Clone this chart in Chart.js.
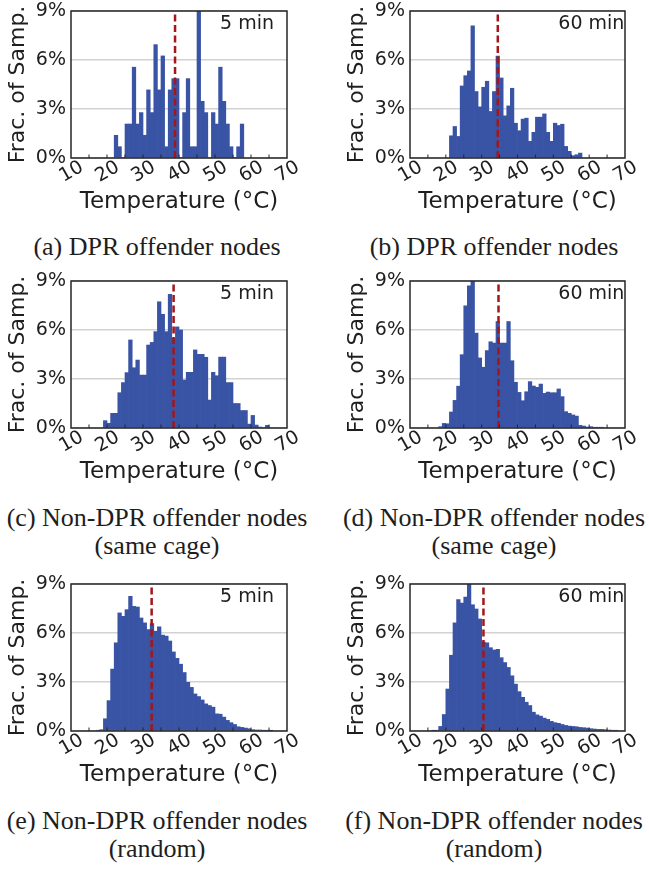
<!DOCTYPE html>
<html>
<head>
<meta charset="utf-8">
<script src="https://cdn.jsdelivr.net/npm/chart.js@4.4.1/dist/chart.umd.min.js"></script>
<style>
  body { margin: 0; background: #fff; width: 649px; height: 869px; position: relative; overflow: hidden; }
  .box { position: absolute; width: 310px; height: 218px; }
  .cap { position: absolute; width: 314px; text-align: center; font-family: "Liberation Serif", "Times New Roman", serif; font-size: 26px; line-height: 28px; color: #1e1e1e; }
</style>
</head>
<body>
<div class="box" style="left:0;top:0"><canvas id="a" width="310" height="218"></canvas></div>
<div class="box" style="left:339px;top:0"><canvas id="b" width="310" height="218"></canvas></div>
<div class="box" style="left:0;top:270px"><canvas id="c" width="310" height="218"></canvas></div>
<div class="box" style="left:339px;top:270px"><canvas id="d" width="310" height="218"></canvas></div>
<div class="box" style="left:0;top:573px"><canvas id="e" width="310" height="218"></canvas></div>
<div class="box" style="left:339px;top:573px"><canvas id="f" width="310" height="218"></canvas></div>

<div class="cap" style="left:0;top:233px">(a) DPR offender nodes</div>
<div class="cap" style="left:337px;top:233px">(b) DPR offender nodes</div>
<div class="cap" style="left:0;top:504px">(c) Non-DPR offender nodes<br>(same cage)</div>
<div class="cap" style="left:337px;top:504px">(d) Non-DPR offender nodes<br>(same cage)</div>
<div class="cap" style="left:0;top:807px">(e) Non-DPR offender nodes<br>(random)</div>
<div class="cap" style="left:337px;top:807px">(f) Non-DPR offender nodes<br>(random)</div>

<script>
// x ticks (°C) and y ticks (%)
var tempTicks = [10, 20, 30, 40, 50, 60, 70];
var pctTicks = [0, 3, 6, 9];
var gridSteps = [0, 1.5, 3, 4.5, 6, 7.5, 9];

// 1 °C bins, first bin lower edge + fraction of samples (%)
var dpr5First = 22;
var dpr5 = [1.39, 0.69, 0, 2.08, 2.08, 5.56, 2.08, 2.78, 1.39, 4.17, 2.78, 6.94, 4.17, 6.25, 0.69, 4.17, 4.86, 4.86, 0, 2.78,
            4.86, 0.69, 0.69, 9.0, 3.47, 2.78, 0, 2.78, 2.08, 5.56, 3.47, 2.08, 0.69, 0, 0.69, 2.08];
var dpr60First = 21;
var dpr60 = [1.36, 1.93, 1.32, 4.41, 5.04, 5.33, 8.09, 4.07, 3.13, 4.33, 4.70, 2.85, 4.07, 6.24, 4.90, 2.58, 3.19, 4.27, 2.13, 1.67,
             2.38, 2.44, 1.02, 1.57, 2.50, 2.50, 2.70, 1.57, 1.02, 2.13, 1.99, 2.07, 0.71, 0.41, 0.14, 0.20, 0.30];
var cage5First = 19;
var cage5 = [0.45, 0.29, 0.90, 0.90, 2.16, 2.78, 3.39, 5.39, 3.69, 4.16, 3.24, 3.24, 5.08, 5.24, 5.90, 7.73, 6.96, 5.90, 8.19, 5.50,
             6.19, 6.00, 2.94, 3.41, 3.41, 4.78, 4.51, 4.51, 4.33, 1.71, 3.41, 3.20, 4.34, 4.34, 2.78, 2.78, 1.50, 1.50, 1.07, 1.07,
             0.24, 0.77, 0.18, 0.06, 0, 0.16];
var cage60First = 18;
var cage60 = [0.08, 0.28, 0.26, 0.98, 1.69, 2.56, 4.49, 7.48, 8.70, 9.0, 5.81, 4.29, 3.72, 4.74, 5.28, 5.20, 6.52, 5.20, 5.20, 6.52,
              4.12, 2.80, 2.18, 1.67, 2.22, 2.84, 2.57, 2.49, 2.69, 2.12, 2.20, 2.16, 2.16, 2.39, 1.92, 1.00, 0.90, 0.80, 0.73, 0.16,
              0.12, 0.06, 0.08, 0.04, 0.04, 0.04];
var rand5First = 17;
var rand5 = [0.04, 0.08, 0.75, 1.86, 3.79, 5.40, 7.23, 7.02, 7.43, 8.24, 7.63, 7.59, 6.92, 6.62, 6.21, 6.58, 6.11, 6.38, 5.87, 5.81,
             5.51, 4.84, 4.45, 4.09, 3.58, 2.98, 2.67, 2.27, 2.11, 1.90, 1.66, 1.56, 1.46, 1.05, 1.03, 0.85, 0.65, 0.51, 0.40, 0.26,
             0.22, 0.18, 0.14, 0.08, 0.06, 0.06, 0.04, 0.04, 0.02];
var rand60First = 16;
var rand60 = [0.03, 0.04, 0.28, 1.01, 2.57, 4.64, 6.62, 8.04, 7.83, 8.20, 9.0, 7.73, 7.47, 6.86, 5.45, 5.40, 5.10, 4.96, 5.00, 4.49,
              4.19, 3.89, 3.38, 2.87, 2.41, 2.06, 1.76, 1.56, 1.15, 0.99, 0.91, 0.79, 0.71, 0.59, 0.51, 0.47, 0.40, 0.34, 0.30, 0.28,
              0.26, 0.22, 0.20, 0.18, 0.14, 0.12, 0.10, 0.10, 0.08, 0.06, 0.04, 0.04];

// median temperature (dashed line)
var medians = { a: 38.9, b: 34.5, c: 38.5, d: 34.7, e: 32.4, f: 30.5 };

Chart.defaults.font.family = '"DejaVu Sans", sans-serif';
Chart.defaults.color = '#1e1e1e';

var frame = {
    id: 'frame',
    afterDatasetsDraw: function (chart, args, opts) {
        var ctx = chart.ctx, a = chart.chartArea, x = chart.scales.x;
        ctx.save();
        ctx.strokeStyle = '#262626';
        ctx.lineWidth = 1;
        for (var v = 15; v < 70; v += 5) {
            var px = x.getPixelForValue(v);
            ctx.beginPath();
            ctx.moveTo(px, a.bottom);
            ctx.lineTo(px, a.bottom - 3.5);
            ctx.stroke();
        }
        ctx.lineWidth = 1.5;
        ctx.strokeRect(a.left, a.top, a.right - a.left, a.bottom - a.top);
        ctx.fillStyle = '#1e1e1e';
        ctx.font = '19px "DejaVu Sans"';
        ctx.textBaseline = 'alphabetic';
        ctx.fillText(opts.text, a.left + 0.69 * (a.right - a.left), a.top + 18);
        ctx.restore();
    }
};

function histogram(id, first, vals, median, text, padRight) {
    var bars = vals.map(function (v, i) { return { x: first + i + 0.5, y: v }; });
    new Chart(document.getElementById(id), {
        type: 'bar',
        data: {
            datasets: [{
                type: 'line',
                data: [{ x: median, y: 0 }, { x: median, y: 9 }],
                borderColor: '#a3161a',
                borderWidth: 2.5,
                borderDash: [7, 3.5],
                pointRadius: 0,
                order: 0
            }, {
                data: bars,
                backgroundColor: '#3953a5',
                borderWidth: 0,
                barPercentage: 1,
                categoryPercentage: 1,
                order: 1
            }]
        },
        options: {
            responsive: false,
            animation: false,
            layout: { padding: { top: 11, right: padRight, left: 0, bottom: 0 } },
            plugins: { legend: { display: false }, tooltip: { enabled: false }, frame: { text: text } },
            scales: {
                x: {
                    type: 'linear', min: 10, max: 70, offset: false,
                    afterBuildTicks: function (s) { s.ticks = tempTicks.map(function (v) { return { value: v }; }); },
                    afterFit: function (s) { s.height = 60; s.paddingLeft = 0; s.paddingRight = 0; },
                    grid: { display: false, drawTicks: false, offset: false },
                    border: { display: false },
                    ticks: { minRotation: 30, maxRotation: 30, labelOffset: 11, padding: -2, font: { size: 19 } },
                    title: { display: true, text: 'Temperature (°C)', font: { size: 23 }, padding: { top: 0, bottom: 2 } }
                },
                y: {
                    min: 0, max: 9,
                    afterBuildTicks: function (s) { s.ticks = gridSteps.map(function (v) { return { value: v }; }); },
                    afterFit: function (s) { s.width = 71; s.paddingTop = 0; s.paddingBottom = 0; },
                    grid: { color: '#d2d2d2', lineWidth: 1.5, drawTicks: false },
                    border: { display: false },
                    ticks: {
                        padding: 5, font: { size: 19 },
                        callback: function (v) { return pctTicks.indexOf(v) >= 0 ? v + '%' : ''; }
                    },
                    title: { display: true, text: 'Frac. of Samp.', font: { size: 22 }, padding: { top: 5, bottom: 0 } }
                }
            }
        },
        plugins: [frame]
    });
}

histogram('a', dpr5First, dpr5, medians.a, '5 min', 23);
histogram('b', dpr60First, dpr60, medians.b, '60 min', 24);
histogram('c', cage5First, cage5, medians.c, '5 min', 23);
histogram('d', cage60First, cage60, medians.d, '60 min', 24);
histogram('e', rand5First, rand5, medians.e, '5 min', 23);
histogram('f', rand60First, rand60, medians.f, '60 min', 24);
</script>
</body>
</html>
